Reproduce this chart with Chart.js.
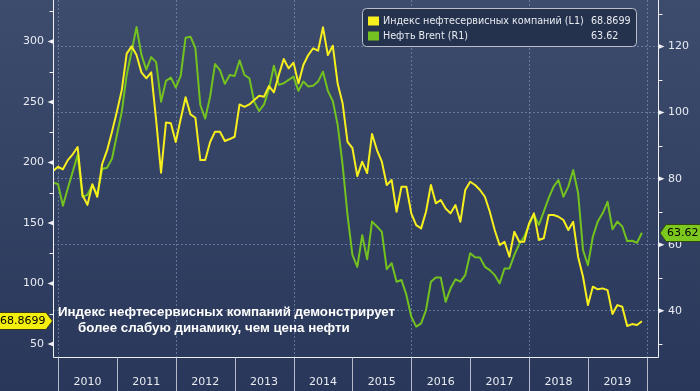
<!DOCTYPE html>
<html>
<head>
<meta charset="utf-8">
<script src="https://cdn.jsdelivr.net/npm/chart.js@4.4.0/dist/chart.umd.min.js"></script>
<style>
  html, body { margin: 0; padding: 0; background: #2f3d5c; }
  #wrap { width: 700px; height: 391px; }
</style>
</head>
<body>
<div id="wrap"><canvas id="chart" width="700" height="391"></canvas></div>
<script>
// --- DATA ---
const years = [2010, 2011, 2012, 2013, 2014, 2015, 2016, 2017, 2018, 2019];
const firstMonth = 2009 + 11 / 12; // monthly points, Dec 2009 .. Dec 2019

const indexValues = [
  193.0, 196.5, 194.4, 202.0, 206.8, 212.8, 173.0, 165.0, 182.0, 171.7,
  198.8, 210.0, 225.5, 242.0, 260.0, 290.0, 296.0, 288.8, 274.5, 269.6,
  274.5, 235.0, 191.6, 233.0, 232.4, 217.0, 236.0, 254.0, 239.8, 237.0,
  202.0, 202.0, 217.0, 225.5, 225.5, 217.8, 219.4, 221.3, 248.0, 246.0,
  248.0, 251.7, 255.2, 254.4, 263.2, 258.0, 272.3, 285.5, 277.8, 282.5,
  265.4, 280.6, 288.8, 294.4, 292.4, 311.7, 288.8, 296.5, 265.0, 249.0,
  217.0, 212.0, 188.8, 200.7, 191.3, 223.6, 210.3, 200.7, 181.4, 185.5,
  159.3, 180.0, 180.0, 158.0, 148.3, 145.6, 159.3, 181.4, 166.3, 169.0,
  162.0, 158.0, 164.9, 151.0, 177.3, 184.1, 181.4, 177.3, 171.7, 159.3,
  144.2, 131.8, 134.5, 122.1, 142.8, 134.5, 134.5, 149.7, 158.0, 136.0,
  137.4, 156.6, 156.6, 155.2, 152.5, 144.2, 151.0, 122.0, 105.6, 82.2,
  97.4, 95.2, 96.0, 94.6, 74.8, 82.2, 80.8, 64.9, 66.5, 65.7,
  68.8699
];

const brentValues = [
  78.8, 78.4, 71.8, 77.1, 82.1, 87.2, 74.5, 75.1, 78.1, 75.1,
  82.9, 83.3, 86.0, 93.2, 100.3, 111.4, 118.5, 125.9, 117.5, 113.0,
  116.8, 115.3, 103.3, 109.6, 110.6, 107.6, 111.1, 122.7, 123.0, 119.5,
  102.3, 98.2, 104.8, 114.7, 112.9, 108.7, 111.4, 111.1, 115.8, 111.4,
  110.4, 103.2, 100.5, 102.5, 107.2, 114.2, 108.4, 108.9, 109.9, 110.9,
  106.6, 109.4, 107.9, 108.1, 109.4, 112.4, 106.6, 103.5, 96.3, 84.2,
  69.0, 56.9, 53.3, 62.9, 55.6, 67.0, 65.5, 63.9, 52.6, 54.4,
  48.8, 49.3, 44.8, 38.2, 35.2, 36.2, 40.2, 48.8, 50.1, 50.1,
  42.7, 46.8, 49.5, 48.8, 50.8, 57.4, 56.2, 56.1, 53.3, 52.3,
  50.8, 48.3, 52.8, 52.8, 56.9, 60.2, 62.4, 66.0, 69.0, 66.0,
  70.0, 74.1, 77.6, 79.6, 74.5, 77.6, 82.6, 75.6, 58.4, 53.8,
  62.4, 67.0, 69.5, 73.0, 64.7, 67.0, 65.5, 61.1, 61.2, 60.6,
  63.62
];

const leftTicks = [50, 100, 150, 200, 250, 300];
const leftMinor = [75, 125, 175, 225, 275, 325];
const rightTicks = [40, 60, 80, 100, 120];
const rightMinor = [30, 50, 70, 90, 110, 130];

const seriesNames = ['Индекс нефтесервисных компаний (L1)', 'Нефть Brent (R1)'];
const lastLabels = ['68.8699', '63.62'];
const noteLines = ['Индекс нефтесервисных компаний демонстрирует', 'более слабую динамику, чем цена нефти'];

// --- STYLE ---
const YELLOW = '#f6ef1d', GREEN = '#73c21f';
const GRID = 'rgba(120, 142, 178, 0.7)';
const AXIS = '#eef0f4', TEXT = '#e8ebf0';
const FONT = 'DejaVu Sans';

Chart.defaults.font.family = FONT;
Chart.defaults.font.size = 11;
Chart.defaults.color = TEXT;

const toPoints = arr => arr.map((v, i) => ({ x: firstMonth + i / 12, y: v }));

// --- DECORATIONS ---
const decor = {
  id: 'decor',
  beforeDraw(chart) {
    const { ctx, width, height } = chart;
    const g = ctx.createLinearGradient(0, 0, 0, height);
    g.addColorStop(0, '#3d4c6d');
    g.addColorStop(1, '#29375a');
    ctx.save();
    ctx.fillStyle = g;
    ctx.fillRect(0, 0, width, height);
    ctx.restore();
  },
  beforeDatasetsDraw(chart) {
    const { ctx, chartArea: a, scales: { x } } = chart;
    ctx.save();
    ctx.strokeStyle = GRID;
    ctx.lineWidth = 1;
    ctx.setLineDash([2, 2]);
    years.concat([2020]).filter(y => y % 2 === 0).forEach(y => {
      const px = Math.round(x.getPixelForValue(y)) + 0.5;
      ctx.beginPath(); ctx.moveTo(px, a.top); ctx.lineTo(px, a.bottom); ctx.stroke();
    });
    ctx.restore();
  },
  afterDatasetsDraw(chart) {
    const { ctx, chartArea: a, scales: { x, y, y1 }, height } = chart;
    const L = Math.round(a.left) + 0.5, R = Math.round(a.right) + 0.5, B = Math.round(a.bottom) + 0.5;
    ctx.save();
    // frame
    ctx.strokeStyle = AXIS;
    ctx.lineWidth = 1;
    ctx.beginPath();
    ctx.moveTo(L, 0); ctx.lineTo(L, B); ctx.lineTo(R, B); ctx.lineTo(R, 0);
    ctx.stroke();
    // tick marks
    ctx.fillStyle = AXIS;
    leftTicks.forEach(v => {
      const py = y.getPixelForValue(v);
      ctx.beginPath(); ctx.moveTo(L, py - 2.5); ctx.lineTo(L - 6, py); ctx.lineTo(L, py + 2.5); ctx.fill();
    });
    rightTicks.forEach(v => {
      const py = y1.getPixelForValue(v);
      ctx.beginPath(); ctx.moveTo(R, py - 2.5); ctx.lineTo(R + 6, py); ctx.lineTo(R, py + 2.5); ctx.fill();
    });
    ctx.beginPath();
    leftMinor.forEach(v => {
      const py = Math.round(y.getPixelForValue(v)) + 0.5;
      ctx.moveTo(L - 4, py); ctx.lineTo(L, py);
    });
    rightMinor.forEach(v => {
      const py = Math.round(y1.getPixelForValue(v)) + 0.5;
      ctx.moveTo(R, py); ctx.lineTo(R + 4, py);
    });
    ctx.stroke();
    // year separators under the axis
    ctx.strokeStyle = '#b4bccb';
    ctx.beginPath();
    years.concat([2020]).forEach(yr => {
      const px = Math.round(x.getPixelForValue(yr)) + 0.5;
      ctx.moveTo(px, B); ctx.lineTo(px, height);
    });
    ctx.stroke();
    // note
    ctx.fillStyle = '#ffffff';
    ctx.font = 'bold 13.3px "Liberation Sans"';
    ctx.textBaseline = 'middle';
    ctx.textAlign = 'left';
    ctx.fillText(noteLines[0], 58, 312);
    ctx.fillText(noteLines[1], 78, 328);
    ctx.restore();
  },
  afterDraw(chart) {
    const { ctx, scales: { y, y1 } } = chart;
    ctx.save();
    // legend
    ctx.beginPath();
    ctx.roundRect(362.5, 8.5, 274, 38, 4);
    ctx.fillStyle = 'rgba(36, 48, 76, 0.92)';
    ctx.fill();
    ctx.strokeStyle = '#b9bec8';
    ctx.lineWidth = 1;
    ctx.stroke();
    ctx.font = '9.6px ' + FONT;
    ctx.textBaseline = 'middle';
    ctx.textAlign = 'left';
    [YELLOW, GREEN].forEach((c, i) => {
      const cy = 21 + i * 15;
      ctx.fillStyle = c;
      ctx.fillRect(368, cy - 4.5, 11, 9);
      ctx.fillStyle = TEXT;
      ctx.fillText(seriesNames[i], 383, cy);
      ctx.fillText(lastLabels[i], 591, cy);
    });
    // last-value tags
    ctx.font = '11px ' + FONT;
    const cyL = Math.round(y.getPixelForValue(indexValues[indexValues.length - 1]));
    ctx.beginPath();
    ctx.moveTo(-1, cyL - 8.5); ctx.lineTo(46, cyL - 8.5); ctx.lineTo(52.5, cyL);
    ctx.lineTo(46, cyL + 8.5); ctx.lineTo(-1, cyL + 8.5); ctx.closePath();
    ctx.fillStyle = '#f4ee0c'; ctx.fill();
    ctx.strokeStyle = '#3a3a20'; ctx.stroke();
    ctx.fillStyle = '#000000';
    ctx.fillText(lastLabels[0], 0, cyL + 0.5);

    const cyR = Math.round(y1.getPixelForValue(brentValues[brentValues.length - 1]));
    ctx.beginPath();
    ctx.moveTo(660, cyR); ctx.lineTo(666, cyR - 8.5); ctx.lineTo(701, cyR - 8.5);
    ctx.lineTo(701, cyR + 8.5); ctx.lineTo(666, cyR + 8.5); ctx.closePath();
    ctx.fillStyle = '#7cc81e'; ctx.fill();
    ctx.strokeStyle = '#2f4a10'; ctx.stroke();
    ctx.fillStyle = '#000000';
    ctx.fillText(lastLabels[1], 667, cyR + 0.5);
    ctx.restore();
  }
};

function fixWidth(w) {
  return s => { s.width = w; s.paddingTop = 0; s.paddingBottom = 0; };
}

// --- CHART ---
new Chart(document.getElementById('chart'), {
  type: 'line',
  data: {
    datasets: [
      { label: seriesNames[0], data: toPoints(indexValues), yAxisID: 'y',
        borderColor: YELLOW, borderWidth: 2, pointRadius: 0, tension: 0, borderJoinStyle: 'round' },
      { label: seriesNames[1], data: toPoints(brentValues), yAxisID: 'y1',
        borderColor: GREEN, borderWidth: 2, pointRadius: 0, tension: 0, borderJoinStyle: 'round' }
    ]
  },
  options: {
    responsive: false,
    animation: false,
    devicePixelRatio: 1,
    layout: { padding: 0 },
    plugins: { legend: { display: false }, tooltip: { enabled: false } },
    scales: {
      x: {
        type: 'linear', min: 2009.915, max: 2020.19,
        afterBuildTicks: s => { s.ticks = years.map(v => ({ value: v + 0.5 })); },
        afterFit: s => { s.height = 34; s.paddingLeft = 0; s.paddingRight = 0; },
        ticks: { autoSkip: false, maxRotation: 0, padding: 19, callback: (v, i) => String(years[i]) },
        grid: { display: false, drawTicks: false },
        border: { display: false }
      },
      y: {
        position: 'left', min: 39.3, max: 334.3,
        afterBuildTicks: s => { s.ticks = leftTicks.map(v => ({ value: v })); },
        afterFit: fixWidth(53),
        ticks: { padding: 9 },
        grid: { display: false, drawTicks: false },
        border: { display: false }
      },
      y1: {
        position: 'right', min: 26, max: 134.1,
        afterBuildTicks: s => { s.ticks = rightTicks.map(v => ({ value: v })); },
        afterFit: fixWidth(42),
        ticks: { padding: 10 },
        grid: { color: GRID, lineWidth: 1, drawTicks: false },
        border: { display: false, dash: [2, 2] }
      }
    }
  },
  plugins: [decor]
});
</script>
</body>
</html>
